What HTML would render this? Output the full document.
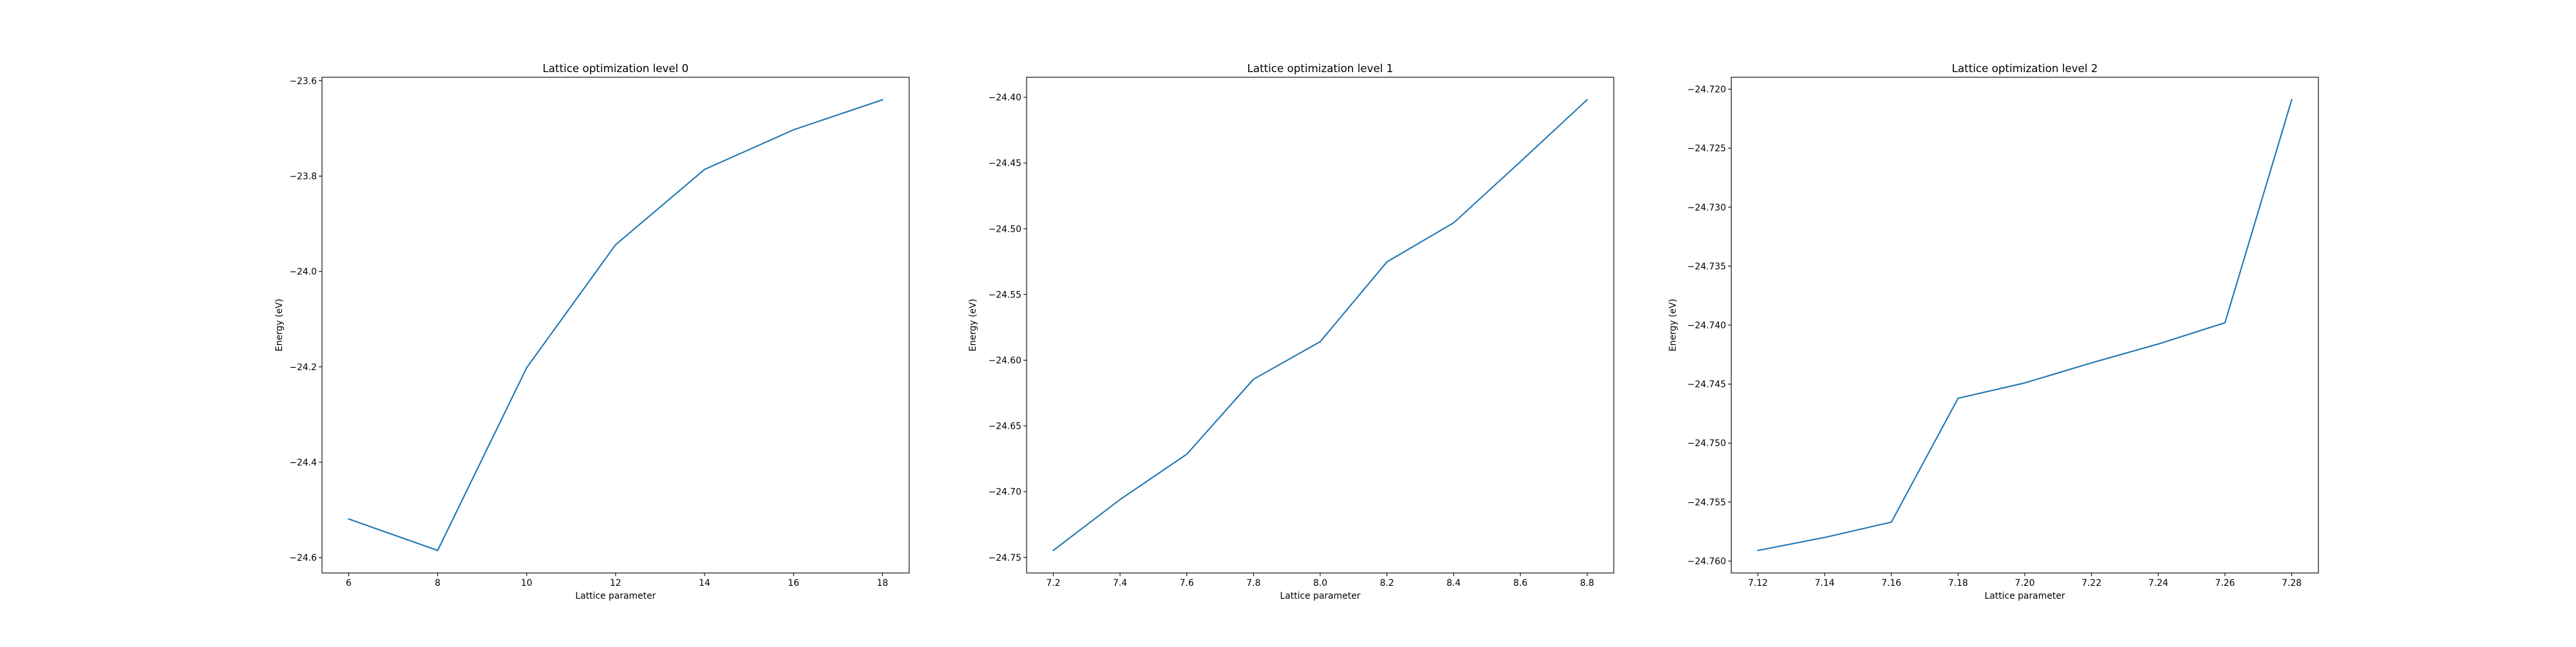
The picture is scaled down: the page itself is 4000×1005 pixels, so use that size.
<!DOCTYPE html>
<html><head><meta charset="utf-8"><style>
html,body{margin:0;padding:0;background:#fff;}
svg text{font-family:"DejaVu Sans","Liberation Sans",sans-serif;fill:#000;}
</style></head><body>
<svg id="fig" xmlns="http://www.w3.org/2000/svg" width="4000" height="1000" viewBox="0 0 4000 1000"></svg>
<script>
const x0 = [6, 8, 10, 12, 14, 16, 18];
const y0 = [-24.519, -24.585, -24.202, -23.944, -23.786, -23.703, -23.640];
const x1 = [7.2, 7.4, 7.6, 7.8, 8.0, 8.2, 8.4, 8.6, 8.8];
const y1 = [-24.7447, -24.706, -24.6715, -24.6145, -24.5859, -24.5252, -24.4955, -24.449, -24.4019];
const x2 = [7.12, 7.14, 7.16, 7.18, 7.20, 7.22, 7.24, 7.26, 7.28];
const y2 = [-24.7591, -24.758, -24.7567, -24.7462, -24.7449, -24.7432, -24.7416, -24.7398, -24.7209];
const xt0 = [6, 8, 10, 12, 14, 16, 18];
const xl0 = ["6","8","10","12","14","16","18"];
const yt0 = [-24.6, -24.4, -24.2, -24.0, -23.8, -23.6];
const yl0 = ["\u221224.6","\u221224.4","\u221224.2","\u221224.0","\u221223.8","\u221223.6"];
const xt1 = [7.2, 7.4, 7.6, 7.8, 8.0, 8.2, 8.4, 8.6, 8.8];
const xl1 = ["7.2","7.4","7.6","7.8","8.0","8.2","8.4","8.6","8.8"];
const yt1 = [-24.75, -24.70, -24.65, -24.60, -24.55, -24.50, -24.45, -24.40];
const yl1 = ["\u221224.75","\u221224.70","\u221224.65","\u221224.60","\u221224.55","\u221224.50","\u221224.45","\u221224.40"];
const xt2 = [7.12, 7.14, 7.16, 7.18, 7.20, 7.22, 7.24, 7.26, 7.28];
const xl2 = ["7.12","7.14","7.16","7.18","7.20","7.22","7.24","7.26","7.28"];
const yt2 = [-24.760, -24.755, -24.750, -24.745, -24.740, -24.735, -24.730, -24.725, -24.720];
const yl2 = ["\u221224.760","\u221224.755","\u221224.750","\u221224.745","\u221224.740","\u221224.735","\u221224.730","\u221224.725","\u221224.720"];
const titles = ["Lattice optimization level 0","Lattice optimization level 1","Lattice optimization level 2"];

const NS = "http://www.w3.org/2000/svg";
const svg = document.getElementById('fig');
function mk(tag, attrs, parent){const e=document.createElementNS(NS,tag);for(const k in attrs)e.setAttribute(k,attrs[k]);(parent||svg).appendChild(e);return e;}

const W = 3100/3.4, TOP = 120, BOT = 890;
const panels = [[x0,y0,xt0,xl0,yt0,yl0],[x1,y1,xt1,xl1,yt1,yl1],[x2,y2,xt2,xl2,yt2,yl2]];
panels.forEach((p,i)=>{
  const [xs,ys,xt,xl,yt,yl]=p;
  const L = 500 + i*1.2*W, R = L + W;
  const xmn=Math.min(...xs), xmx=Math.max(...xs), ymn=Math.min(...ys), ymx=Math.max(...ys);
  const xa=xmn-(xmx-xmn)*0.05, xb=xmx+(xmx-xmn)*0.05, ya=ymn-(ymx-ymn)*0.05, yb=ymx+(ymx-ymn)*0.05;
  const sx=v=>L+(v-xa)/(xb-xa)*W, sy=v=>BOT-(v-ya)/(yb-ya)*(BOT-TOP);
  const g=mk('g',{});
  
  
  const line=mk('polyline',{points:xs.map((x,j)=>sx(x)+','+sy(ys[j])).join(' '),fill:'none',stroke:'#1f77b4','stroke-width':2.1,'stroke-linejoin':'round','stroke-linecap':'square'},g);
  
  
  const fr=mk('rect',{x:L,y:TOP,width:W,height:BOT-TOP,fill:'none',stroke:'#000','stroke-width':1.1},g);
  
  
  xt.forEach((t,j)=>{const X=sx(t);
    mk('line',{x1:X,x2:X,y1:BOT,y2:BOT+4.9,stroke:'#000','stroke-width':1.1},g);
    const tx=mk('text',{x:X,y:BOT+20,'text-anchor':'middle','font-size':13.9},g);tx.textContent=xl[j];
    
    });
  yt.forEach((t,j)=>{const Y=sy(t);
    mk('line',{x1:L-4.9,x2:L,y1:Y,y2:Y,stroke:'#000','stroke-width':1.1},g);
    const tx=mk('text',{x:L-8,y:Y+5,'text-anchor':'end','font-size':13.9},g);tx.textContent=yl[j];
    
    });
  const tt=mk('text',{x:L+W/2,y:TOP-8,'text-anchor':'middle','font-size':16.7},g);tt.textContent=titles[i];
  
  
  const xlab=mk('text',{x:L+W/2,y:BOT+40,'text-anchor':'middle','font-size':13.9},g);xlab.textContent='Lattice parameter';
  
  
  const yoff = i===0?62:(i===1?79:86);
  const ylab=mk('text',{x:0,y:0,'text-anchor':'middle','font-size':13.9,transform:'translate('+(L-yoff)+','+((TOP+BOT)/2)+') rotate(-90)'},g);ylab.textContent='Energy (eV)';
  
  
});
</script>
</body></html>
